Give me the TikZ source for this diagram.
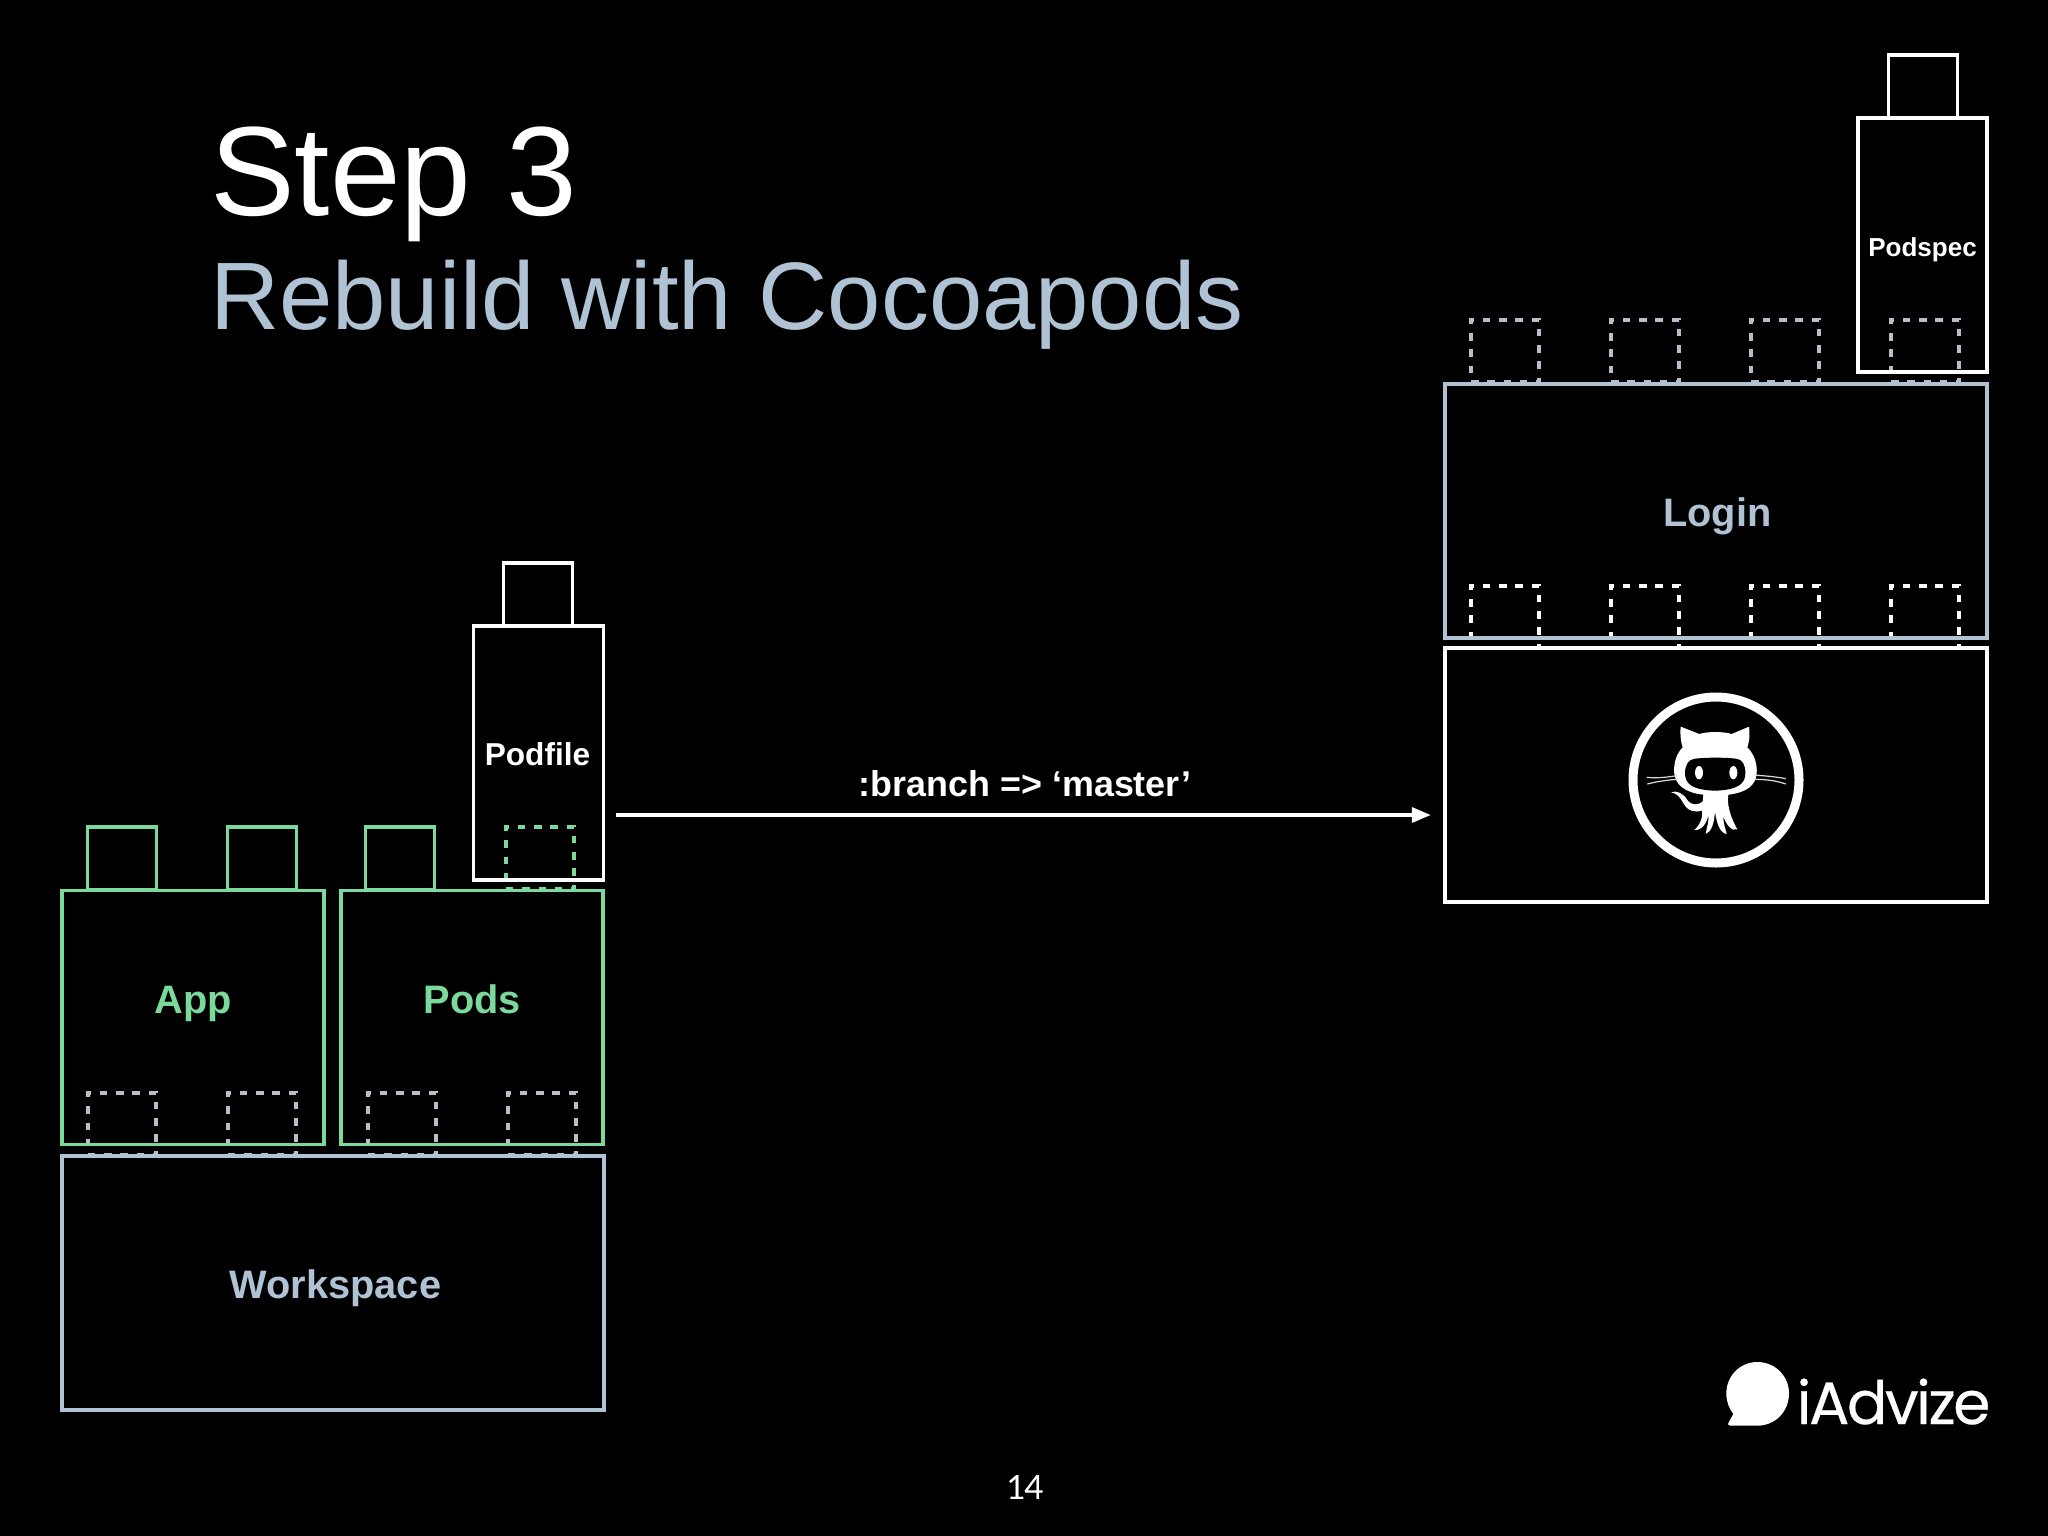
\documentclass[tikz,border=0pt]{standalone}
\usepackage{fontspec}
\setmainfont{Liberation Sans}
\newfontfamily\logofont[FakeBold=0.5,LetterSpace=-4]{Poppins}
\newfontfamily\pagefont[LetterSpace=-4]{Lato}
\usetikzlibrary{arrows.meta}
\definecolor{slate}{HTML}{AFC3D4}
\definecolor{mint}{HTML}{7BD99B}
\definecolor{ash}{HTML}{B7BFCB}
\tikzset{
block/.style={draw=#1, line width=0.038cm, inner sep=0pt, outer sep=0pt},
blocklabel/.style={text=#1, inner sep=0pt, anchor=base, font=\fontsize{11.3}{13}\selectfont\bfseries},
stud/.style={draw=#1, line width=0.038cm, inner sep=0pt, outer sep=0pt, minimum width=0.69cm, minimum height=0.63cm},
socket/.style={draw=#1, line width=0.04cm, dash pattern=on 0.075cm off 0.0875cm, inner sep=0pt, outer sep=0pt, minimum width=0.68cm, minimum height=0.62cm},
branchline/.style={draw=white, line width=0.035cm, -{Triangle[length=0.19cm,width=0.15cm]}}
}
\begin{document}
\begin{tikzpicture}[x=0.01cm,y=-0.01cm]
\fill[black] (0,0) rectangle (2048,1536);
\useasboundingbox (0,0) rectangle (2048,1536);
\node[anchor=base west, inner sep=0pt, text=white, font=\fontsize{36.1}{40}\selectfont] (steptitle) at (209.5,215.5) {Step 3};
\node[anchor=base west, inner sep=0pt, text=slate, font=\fontsize{27.25}{32}\selectfont] (subtitle) at (209.5,329) {Rebuild with Cocoapods};
\foreach \x/\n in {122/a,262/b,402/c,542/d} \node[socket=ash] (lowsocket\n) at (\x,1124) {};
\foreach \x/\n in {122/a,262/b} \node[stud=mint] (appstud\n) at (\x,858.5) {};
\node[stud=mint] (podsstud) at (400,858.5) {};
\node[socket=mint] (podsocket) at (540,858) {};
\node[block=slate, minimum width=5.42cm, minimum height=2.54cm] (workspace) at (333,1283) {};
\node[blocklabel=slate] (workspacelabel) at (335.5,1298) {Workspace};
\node[block=mint, minimum width=2.62cm, minimum height=2.54cm] (app) at (193,1017.5) {};
\node[blocklabel=mint] (applabel) at (193,1013) {App};
\node[block=mint, minimum width=2.62cm, minimum height=2.54cm] (pods) at (472.3,1017.5) {};
\node[blocklabel=mint] (podslabel) at (472.5,1013) {Pods};
\node[stud=white] (podfilestud) at (538,594.5) {};
\node[block=white, minimum width=1.3cm, minimum height=2.54cm] (podfile) at (538.5,753) {};
\node[blocklabel=white, font=\fontsize{9}{11}\selectfont\bfseries] (podfilelabel) at (537.5,765.7) {Podfile};
\foreach \x/\n in {1505/a,1645/b,1785/c,1925/d} \node[socket=ash] (topsocket\n) at (\x,351) {};
\foreach \x/\n in {1505/a,1645/b,1785/c,1925/d} \node[socket=white] (loginsocket\n) at (\x,617) {};
\node[block=slate, minimum width=5.42cm, minimum height=2.54cm] (login) at (1716,511) {};
\node[blocklabel=slate] (loginlabel) at (1717.3,526) {Login};
\node[block=white, minimum width=5.42cm, minimum height=2.54cm] (github) at (1716,775) {};
\node[stud=white] (podspecstud) at (1923,86.5) {};
\node[block=white, minimum width=1.29cm, minimum height=2.54cm] (podspec) at (1922.5,245) {};
\node[blocklabel=white, font=\fontsize{7.4}{9}\selectfont\bfseries] (podspeclabel) at (1922.5,256) {Podspec};
\coordinate (branchrow) at (0,815);
\draw[branchline, shorten <=0.12cm, shorten >=0.14cm] (podfile.east |- branchrow) -- (github.west |- branchrow);
\node[text=white, inner sep=0pt, anchor=base, font=\fontsize{10.2}{12}\selectfont\bfseries] (branchlabel) at (1025,796) {:branch => ‘master’};
\draw[white, line width=0.09cm] (1716,780) circle (83);
\begin{scope}[shift={(1560,660)},scale=1/3]
\fill[white] (362,200) -- (418,222) .. controls (445,214) and (488,214) .. (515,222) -- (567,200) .. controls (570,225) and (568,245) .. (562,262) .. controls (585,285) and (592,315) .. (590,340) .. controls (588,375) and (560,398) .. (505,404) .. controls (500,430) and (510,470) .. (532,508) .. controls (515,515) and (500,495) .. (490,470) .. controls (490,495) and (498,510) .. (500,522) .. controls (480,520) and (470,490) .. (465,455) .. controls (462,490) and (455,515) .. (437,522) .. controls (440,500) and (448,485) .. (445,465) .. controls (440,490) and (425,512) .. (403,510) .. controls (420,495) and (430,470) .. (426,452) .. controls (405,458) and (385,455) .. (370,430) .. controls (360,410) and (350,400) .. (333,397) .. controls (350,390) and (370,400) .. (382,420) .. controls (395,438) and (415,435) .. (428,425) -- (430,404) .. controls (375,398) and (345,375) .. (342,335) .. controls (342,305) and (350,280) .. (368,262) .. controls (362,245) and (360,225) .. (362,200) -- cycle;
\fill[black] (405,296) .. controls (440,292) and (495,292) .. (528,296) .. controls (548,298) and (556,315) .. (556,340) .. controls (556,370) and (535,390) .. (465,392) .. controls (395,390) and (375,370) .. (375,340) .. controls (375,315) and (385,298) .. (405,296) -- cycle;
\fill[white] (417,338) ellipse (12 and 20);
\fill[white] (520,338) ellipse (12 and 20);
\draw[white!85!black, line width=0.012cm] (260,352) .. controls (290,355) and (320,352) .. (350,347);
\draw[white!85!black, line width=0.012cm] (262,372) .. controls (290,365) and (320,360) .. (352,358);
\draw[white!85!black, line width=0.012cm] (585,345) .. controls (615,348) and (650,350) .. (677,356);
\draw[white!85!black, line width=0.012cm] (585,358) .. controls (615,358) and (650,362) .. (677,372);
\end{scope}
\begin{scope}[shift={(1680,1340)},scale=1/3]
\fill[white] (232,66) .. controls (285,66) and (327,108) .. (327,160) .. controls (327,215) and (285,257) .. (232,257) -- (150,257) .. controls (144,257) and (142,250) .. (147,245) -- (160,222) .. controls (147,205) and (139,185) .. (139,160) .. controls (139,108) and (180,66) .. (232,66) -- cycle;
\end{scope}
\node[anchor=base west, inner sep=0pt, text=white, font=\logofont\fontsize{17}{20}\selectfont] (logotext) at (1796,1424) {iAdvize};
\node[text=white, inner sep=0pt, font=\pagefont\fontsize{9.5}{11}\selectfont] (pagenumber) at (1025,1487) {14};
\end{tikzpicture}
\end{document}
